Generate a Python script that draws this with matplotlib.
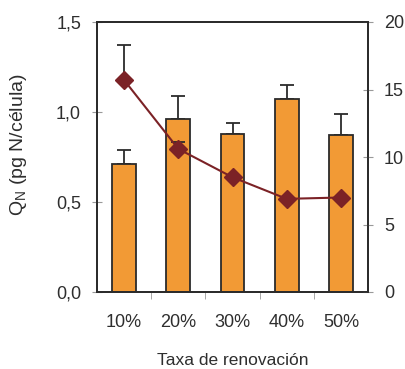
import matplotlib
matplotlib.use("Agg")
import matplotlib.pyplot as plt
import numpy as np

plt.rcParams['font.family'] = ['Liberation Sans', 'DejaVu Sans']

categories = ['10%', '20%', '30%', '40%', '50%']
qn_values = [0.71, 0.96, 0.88, 1.07, 0.87]
qn_err = [0.08, 0.13, 0.06, 0.08, 0.12]
line_values = [15.7, 10.6, 8.5, 6.9, 7.0]
line_err = [2.6, 0.5, 0.0, 0.0, 0.0]
left_ticks = [0.0, 0.5, 1.0, 1.5]
left_tick_labels = ['0,0', '0,5', '1,0', '1,5']
right_ticks = [0, 5, 10, 15, 20]

fig = plt.figure(figsize=(4.05, 3.69), dpi=100)
ax = fig.add_axes([97/405, 1-292/369, 271/405, 270/369])
x = np.arange(len(categories))

ax.bar(x, qn_values, width=0.44, color='#F29A35', edgecolor='#2b2b2b', linewidth=1.3, zorder=2)
ax.errorbar(x, qn_values, yerr=[np.zeros(len(x)), qn_err], fmt='none', ecolor='#2b2b2b',
            elinewidth=1.3, capsize=5, capthick=1.3, zorder=1)
ax.set_xlim(-0.5, 4.5)
ax.set_ylim(0, 1.5)
ax.set_yticks(left_ticks)
ax.set_yticklabels(left_tick_labels)
ax.set_xticks(x)
ax.set_xticklabels(categories)
ax.set_xticks(np.arange(0.5, 4.5, 1), minor=True)
ax.tick_params(axis='x', which='major', length=0, pad=16, labelsize=13, colors='#2e2e2e')
ax.tick_params(axis='x', which='minor', length=5, direction='out', color='#999999')
ax.tick_params(axis='y', length=7, direction='inout', pad=8, labelsize=13, colors='#2e2e2e', color='#999999')
ax.set_ylabel('Q$_\\mathregular{N}$ (pg N/célula)', fontsize=14, color='#2e2e2e')
ax.yaxis.set_label_coords(-0.252, 0.545)
ax.set_xlabel('Taxa de renovación', fontsize=12.5, color='#2e2e2e', labelpad=16)
for s in ax.spines.values():
    s.set_color('#2b2b2b')
    s.set_linewidth(1.3)

ax2 = ax.twinx()
ax2.errorbar(x, line_values, yerr=[np.zeros(len(x)), line_err], fmt='none', ecolor='#2b2b2b',
             elinewidth=1.3, capsize=5, capthick=1.3, zorder=3)
ax2.plot(x, line_values, color='#7B2226', linewidth=1.5, marker='D', markersize=9,
         markerfacecolor='#7B2226', markeredgecolor='#7B2226', zorder=4)
ax2.set_ylim(0, 20)
ax2.set_yticks(right_ticks)
ax2.tick_params(axis='y', length=7, direction='inout', pad=8, labelsize=13, colors='#2e2e2e', color='#999999')
for s in ax2.spines.values():
    s.set_color('#2b2b2b')
    s.set_linewidth(1.3)

fig.savefig('out.png', dpi=100)
